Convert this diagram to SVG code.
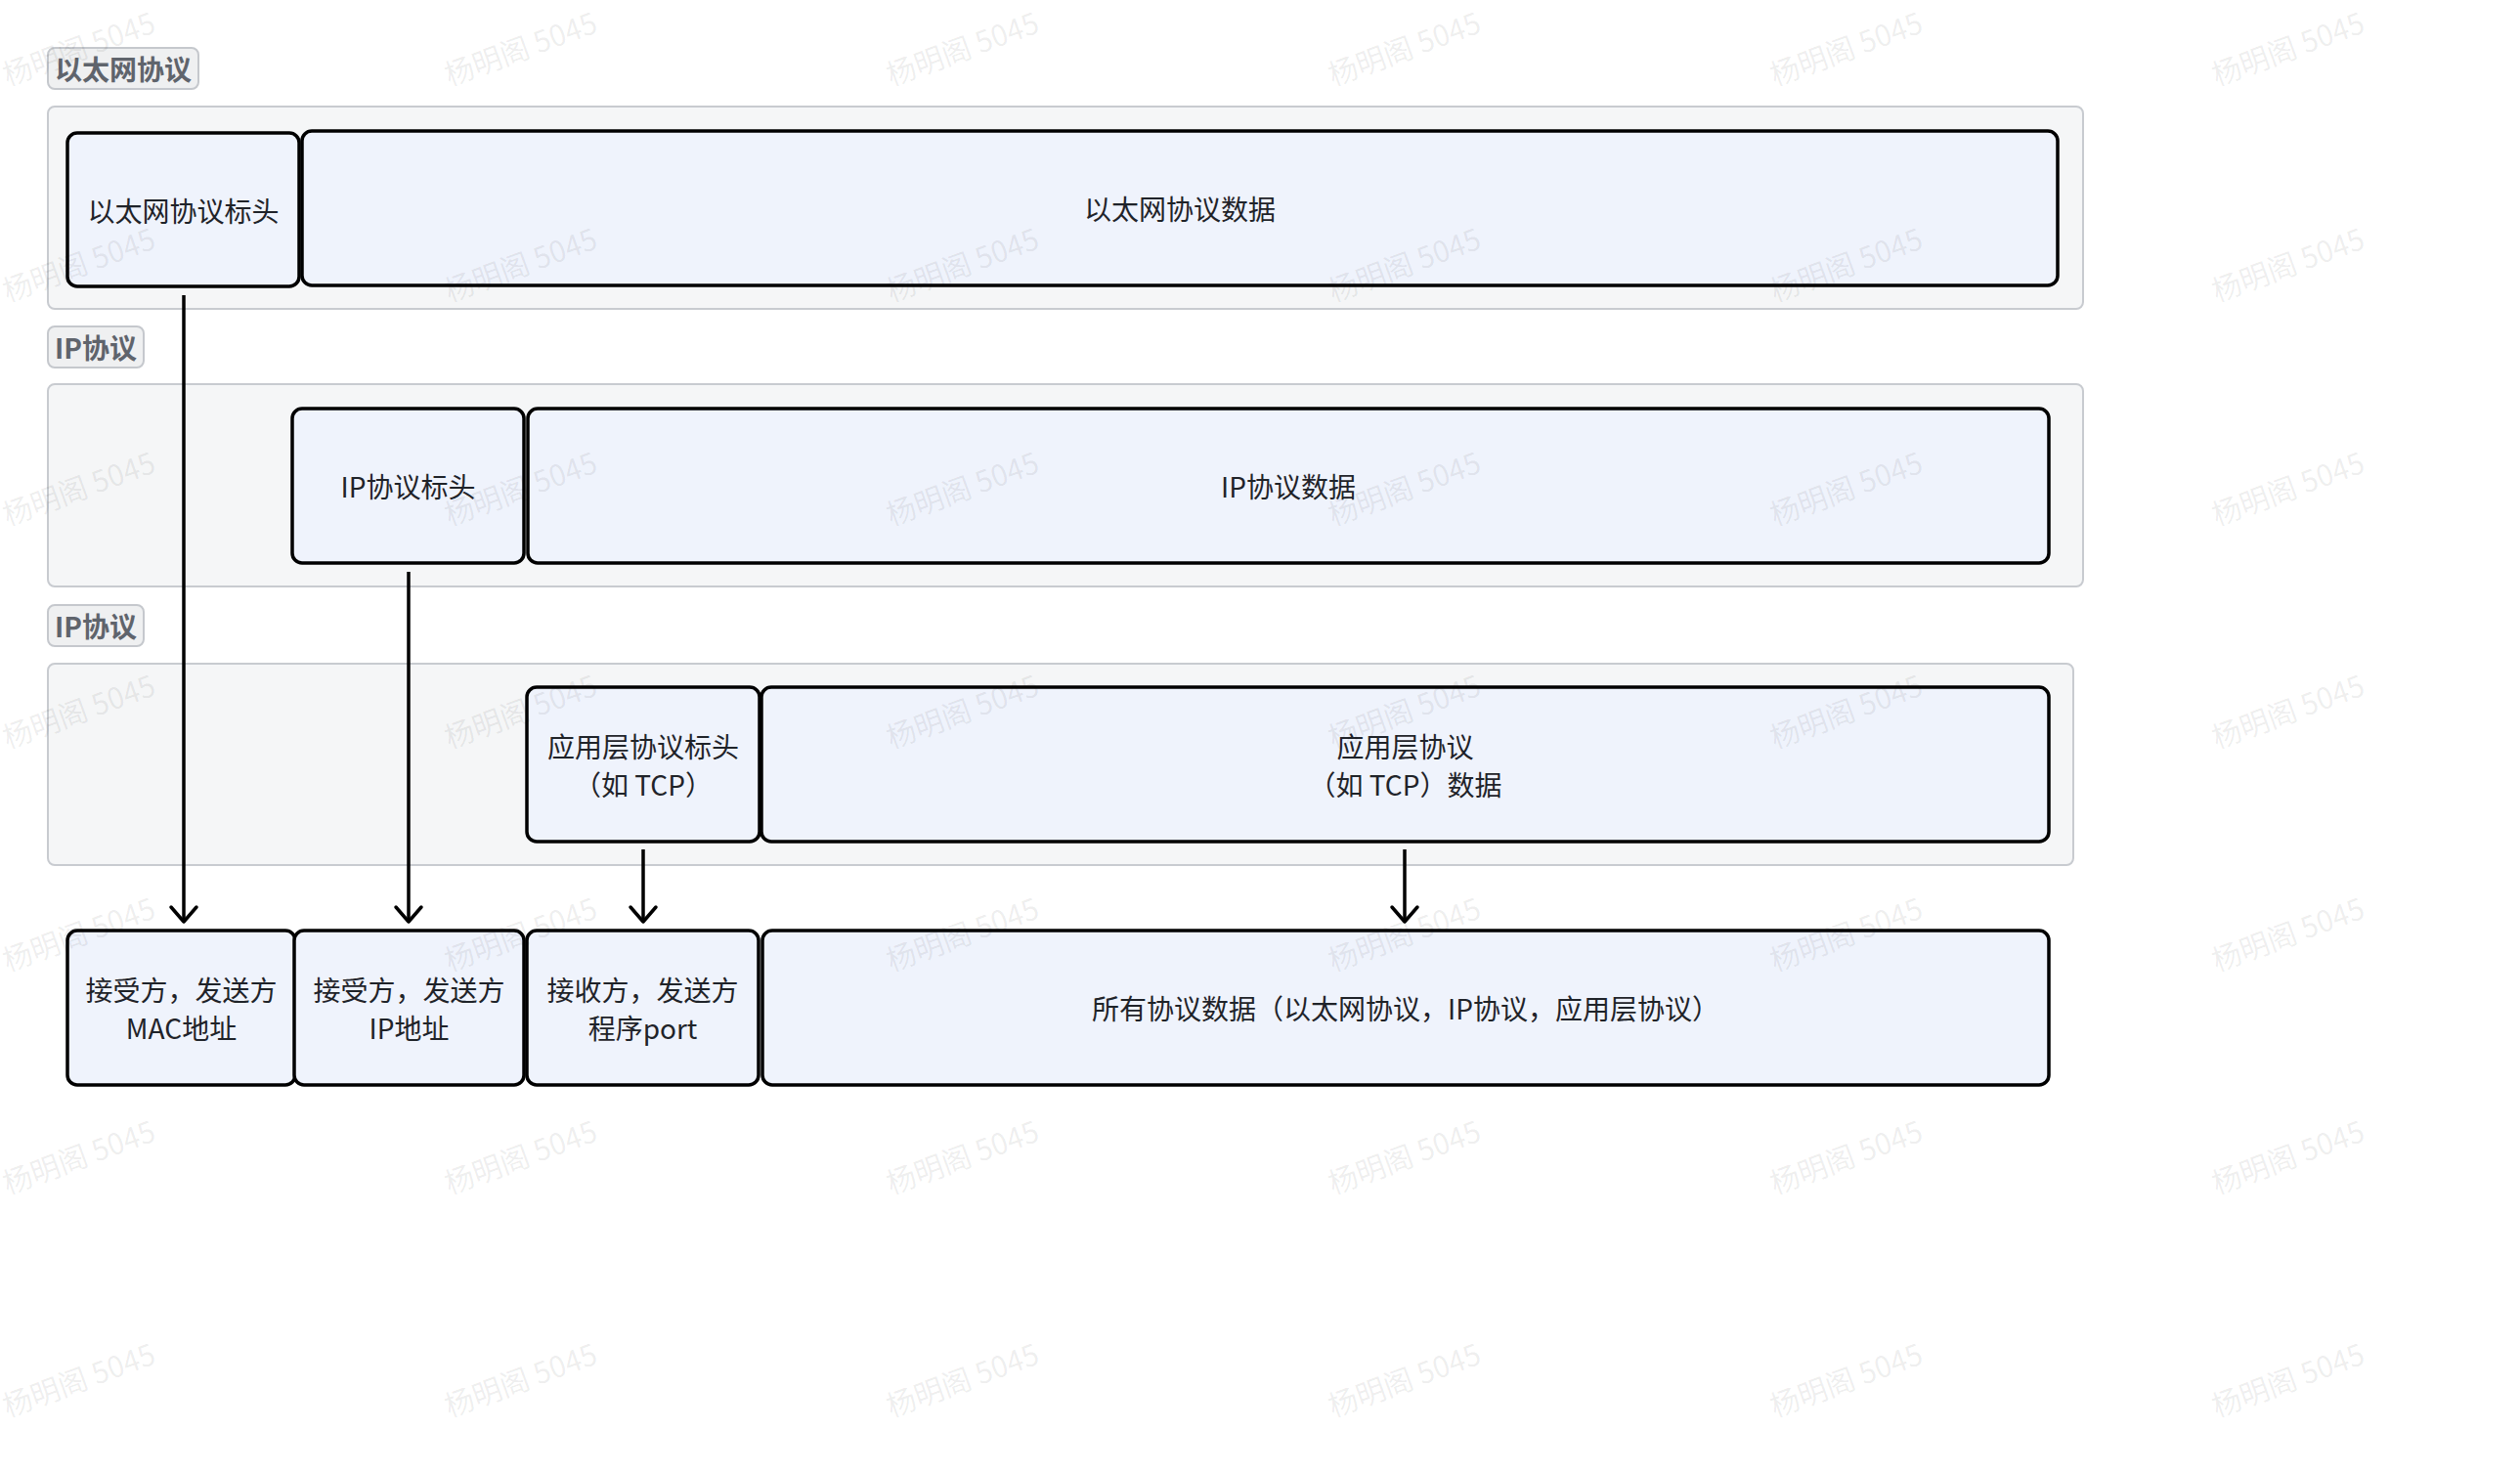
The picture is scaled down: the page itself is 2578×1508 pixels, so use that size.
<svg xmlns="http://www.w3.org/2000/svg" width="2578" height="1508" viewBox="0 0 2578 1508">
<style>
.bg{fill:#ffffff}
.container{fill:#f5f6f7;stroke:#c8cbd0;stroke-width:2}
.tag rect{fill:#eff0f1;stroke:#c5c8cd;stroke-width:2}
.tag text{font-family:"Noto Sans CJK SC","Noto Sans",sans-serif;font-size:28px;font-weight:bold;fill:#5f646c;text-anchor:middle;dominant-baseline:central}
.node rect{fill:#eff3fc;stroke:#000000;stroke-width:3.5}
.node text{font-family:"Noto Sans CJK SC","Noto Sans",sans-serif;font-size:28px;fill:#1f2329;text-anchor:middle;dominant-baseline:central}
.edge{fill:none;stroke:#000000;stroke-width:3.5}
.wm text{font-family:"Noto Sans CJK SC","Noto Sans",sans-serif;font-size:30px;fill:#000000;fill-opacity:0.075;text-anchor:middle;dominant-baseline:central}
</style>
<defs>
<marker id="arrow" markerUnits="userSpaceOnUse" markerWidth="40" markerHeight="40" refX="0" refY="0" viewBox="-20 -20 40 40" orient="auto" overflow="visible">
<path d="M-15,-13 L0,0 L-15,13" fill="none" stroke="#000000" stroke-width="3.5" stroke-linejoin="round" stroke-linecap="round"/>
</marker>
</defs>
<rect class="bg" x="0" y="0" width="2578" height="1508"/>

<g id="layer-ethernet">
<g id="tag-ethernet" class="tag"><rect x="49" y="49" width="154" height="42" rx="7"/><text x="126" y="70">以太网协议</text></g>
<rect id="container-ethernet" class="container" x="49" y="109" width="2082" height="207" rx="7"/>
<g id="eth-header" class="node"><rect x="69" y="136" width="237" height="157" rx="10"/><text x="187.5" y="214.5">以太网协议标头</text></g>
<g id="eth-data" class="node"><rect x="309" y="134" width="1796" height="158" rx="10"/><text x="1207" y="213">以太网协议数据</text></g>
</g>

<g id="layer-ip">
<g id="tag-ip" class="tag"><rect x="49" y="334" width="98" height="42" rx="7"/><text x="98" y="355">IP协议</text></g>
<rect id="container-ip" class="container" x="49" y="393" width="2082" height="207" rx="7"/>
<g id="ip-header" class="node"><rect x="299" y="418" width="237" height="158" rx="10"/><text x="417.5" y="497">IP协议标头</text></g>
<g id="ip-data" class="node"><rect x="540" y="418" width="1556" height="158" rx="10"/><text x="1318" y="497">IP协议数据</text></g>
</g>

<g id="layer-app">
<g id="tag-app" class="tag"><rect x="49" y="619" width="98" height="42" rx="7"/><text x="98" y="640">IP协议</text></g>
<rect id="container-app" class="container" x="49" y="679" width="2072" height="206" rx="7"/>
<g id="app-header" class="node"><rect x="539" y="703" width="238" height="158" rx="10"/><text x="658" y="763">应用层协议标头</text><text x="658" y="802">（如 TCP）</text></g>
<g id="app-data" class="node"><rect x="779" y="703" width="1317" height="158" rx="10"/><text x="1437.5" y="763">应用层协议</text><text x="1437.5" y="802">（如 TCP）数据</text></g>
</g>

<g id="result">
<g id="res-mac" class="node"><rect x="69" y="952" width="233" height="158" rx="10"/><text x="185.5" y="1012">接受方，发送方</text><text x="185.5" y="1051">MAC地址</text></g>
<g id="res-ip" class="node"><rect x="301" y="952" width="235" height="158" rx="10"/><text x="418.5" y="1012">接受方，发送方</text><text x="418.5" y="1051">IP地址</text></g>
<g id="res-port" class="node"><rect x="539" y="952" width="237" height="158" rx="10"/><text x="657.5" y="1012">接收方，发送方</text><text x="657.5" y="1051">程序port</text></g>
<g id="res-data" class="node"><rect x="780" y="952" width="1316" height="158" rx="10"/><text x="1438" y="1031">所有协议数据（以太网协议，IP协议，应用层协议）</text></g>
</g>

<g id="connectors">
<path class="edge" d="M188,302 L188,943" marker-end="url(#arrow)"/>
<path class="edge" d="M418,585 L418,943" marker-end="url(#arrow)"/>
<path class="edge" d="M658,869 L658,943" marker-end="url(#arrow)"/>
<path class="edge" d="M1437,869 L1437,943" marker-end="url(#arrow)"/>
</g>

<g id="watermark" class="wm">
<text x="80" y="48" transform="rotate(-20 80 48)">杨明阁 5045</text>
<text x="532" y="48" transform="rotate(-20 532 48)">杨明阁 5045</text>
<text x="984" y="48" transform="rotate(-20 984 48)">杨明阁 5045</text>
<text x="1436" y="48" transform="rotate(-20 1436 48)">杨明阁 5045</text>
<text x="1888" y="48" transform="rotate(-20 1888 48)">杨明阁 5045</text>
<text x="2340" y="48" transform="rotate(-20 2340 48)">杨明阁 5045</text>
<text x="80" y="269" transform="rotate(-20 80 269)">杨明阁 5045</text>
<text x="532" y="269" transform="rotate(-20 532 269)">杨明阁 5045</text>
<text x="984" y="269" transform="rotate(-20 984 269)">杨明阁 5045</text>
<text x="1436" y="269" transform="rotate(-20 1436 269)">杨明阁 5045</text>
<text x="1888" y="269" transform="rotate(-20 1888 269)">杨明阁 5045</text>
<text x="2340" y="269" transform="rotate(-20 2340 269)">杨明阁 5045</text>
<text x="80" y="498" transform="rotate(-20 80 498)">杨明阁 5045</text>
<text x="532" y="498" transform="rotate(-20 532 498)">杨明阁 5045</text>
<text x="984" y="498" transform="rotate(-20 984 498)">杨明阁 5045</text>
<text x="1436" y="498" transform="rotate(-20 1436 498)">杨明阁 5045</text>
<text x="1888" y="498" transform="rotate(-20 1888 498)">杨明阁 5045</text>
<text x="2340" y="498" transform="rotate(-20 2340 498)">杨明阁 5045</text>
<text x="80" y="726" transform="rotate(-20 80 726)">杨明阁 5045</text>
<text x="532" y="726" transform="rotate(-20 532 726)">杨明阁 5045</text>
<text x="984" y="726" transform="rotate(-20 984 726)">杨明阁 5045</text>
<text x="1436" y="726" transform="rotate(-20 1436 726)">杨明阁 5045</text>
<text x="1888" y="726" transform="rotate(-20 1888 726)">杨明阁 5045</text>
<text x="2340" y="726" transform="rotate(-20 2340 726)">杨明阁 5045</text>
<text x="80" y="954" transform="rotate(-20 80 954)">杨明阁 5045</text>
<text x="532" y="954" transform="rotate(-20 532 954)">杨明阁 5045</text>
<text x="984" y="954" transform="rotate(-20 984 954)">杨明阁 5045</text>
<text x="1436" y="954" transform="rotate(-20 1436 954)">杨明阁 5045</text>
<text x="1888" y="954" transform="rotate(-20 1888 954)">杨明阁 5045</text>
<text x="2340" y="954" transform="rotate(-20 2340 954)">杨明阁 5045</text>
<text x="80" y="1182" transform="rotate(-20 80 1182)">杨明阁 5045</text>
<text x="532" y="1182" transform="rotate(-20 532 1182)">杨明阁 5045</text>
<text x="984" y="1182" transform="rotate(-20 984 1182)">杨明阁 5045</text>
<text x="1436" y="1182" transform="rotate(-20 1436 1182)">杨明阁 5045</text>
<text x="1888" y="1182" transform="rotate(-20 1888 1182)">杨明阁 5045</text>
<text x="2340" y="1182" transform="rotate(-20 2340 1182)">杨明阁 5045</text>
<text x="80" y="1410" transform="rotate(-20 80 1410)">杨明阁 5045</text>
<text x="532" y="1410" transform="rotate(-20 532 1410)">杨明阁 5045</text>
<text x="984" y="1410" transform="rotate(-20 984 1410)">杨明阁 5045</text>
<text x="1436" y="1410" transform="rotate(-20 1436 1410)">杨明阁 5045</text>
<text x="1888" y="1410" transform="rotate(-20 1888 1410)">杨明阁 5045</text>
<text x="2340" y="1410" transform="rotate(-20 2340 1410)">杨明阁 5045</text>
</g>
</svg>
